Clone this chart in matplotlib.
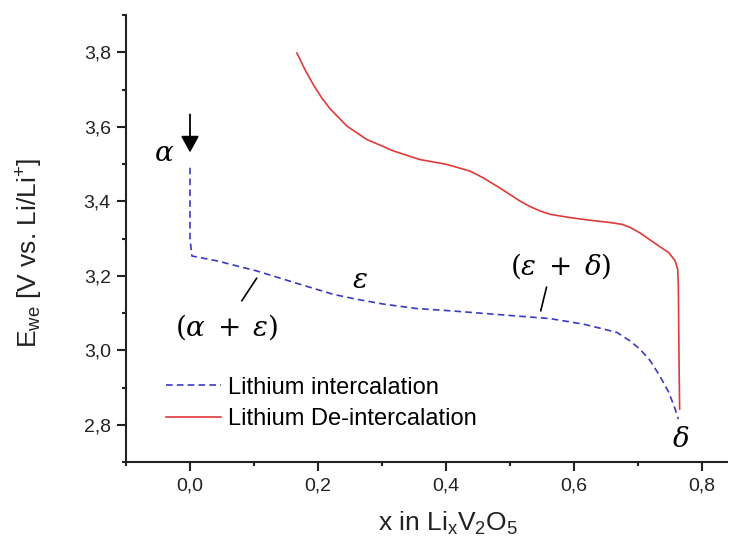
import matplotlib
matplotlib.use("Agg")
import matplotlib.pyplot as plt
from matplotlib.ticker import MultipleLocator, FuncFormatter

plt.rcParams['font.family'] = ['Liberation Sans', 'DejaVu Sans']
plt.rcParams['mathtext.fontset'] = 'dejavuserif'

# Intercalation (discharge) curve
x_int = [0.0, 0.0, 0.0, 0.003, 0.042, 0.104, 0.172, 0.224, 0.260, 0.302, 0.354,
         0.406, 0.458, 0.510, 0.5625, 0.615, 0.667, 0.6875, 0.703, 0.719, 0.734,
         0.748, 0.758, 0.763]
e_int = [3.49, 3.40, 3.30, 3.253, 3.240, 3.213, 3.177, 3.150, 3.137, 3.124, 3.112,
         3.106, 3.099, 3.092, 3.085, 3.070, 3.048, 3.025, 3.003, 2.972, 2.931,
         2.887, 2.842, 2.815]

# De-intercalation (charge) curve
x_deint = [0.167, 0.180, 0.193, 0.206, 0.219, 0.245, 0.276, 0.318, 0.359, 0.401,
           0.4375, 0.458, 0.479, 0.500, 0.516, 0.531, 0.547, 0.5625, 0.594, 0.625,
           0.656, 0.675, 0.6875, 0.703, 0.729, 0.748, 0.758, 0.762, 0.763, 0.764,
           0.765]
e_deint = [3.798, 3.752, 3.712, 3.677, 3.648, 3.602, 3.566, 3.535, 3.512, 3.499,
           3.481, 3.463, 3.441, 3.418, 3.400, 3.386, 3.374, 3.365, 3.356, 3.349,
           3.343, 3.338, 3.330, 3.315, 3.284, 3.262, 3.240, 3.217, 3.173, 2.98,
           2.842]

fig = plt.figure(figsize=(7.31, 5.43), dpi=100)
ax = fig.add_axes([126 / 731, 81 / 543, (727 - 126) / 731, (462 - 15) / 543])

ax.plot(x_int, e_int, color='#3a3ac4', lw=1.2, linestyle=(0, (4, 2.5)),
        label='Lithium intercalation')
ax.plot(x_deint, e_deint, color='#e03a3a', lw=1.2, label='Lithium De-intercalation')

ax.set_xlim(-0.1, 0.839)
ax.set_ylim(2.7, 3.9)

for side in ('top', 'right'):
    ax.spines[side].set_visible(False)
for side in ('left', 'bottom'):
    ax.spines[side].set_linewidth(1.5)
    ax.spines[side].set_color('#222222')

ax.xaxis.set_major_locator(MultipleLocator(0.2))
ax.xaxis.set_minor_locator(MultipleLocator(0.1))
ax.yaxis.set_major_locator(MultipleLocator(0.2))
ax.yaxis.set_minor_locator(MultipleLocator(0.1))
comma = FuncFormatter(lambda v, p: f"{v:.1f}".replace('.', ','))
ax.xaxis.set_major_formatter(comma)
ax.yaxis.set_major_formatter(comma)
ax.tick_params(which='major', direction='out', length=6.5, width=1.5,
               labelsize=14, colors='#222222', pad=4.5)
ax.tick_params(which='minor', direction='out', length=3.2, width=1.5, colors='#222222')

ax.set_xlabel(r'x in Li$_{\mathregular{x}}$V$_{\mathregular{2}}$O$_{\mathregular{5}}$',
              fontsize=19, color='#222222')
ax.set_ylabel(r'E$_{\mathregular{we}}$ [V vs. Li/Li$^{\mathregular{+}}$]',
              fontsize=19, color='#222222')
ax.xaxis.set_label_coords(0.536, -0.108)
ax.yaxis.set_label_coords(-0.135, 0.468)

# Phase annotations
ax.annotate('', xy=(0.0, 3.531), xytext=(0.0, 3.633),
            arrowprops=dict(arrowstyle='-|>,head_length=1.0,head_width=0.55',
                            color='black', lw=1.3, shrinkA=0, shrinkB=0))
ax.text(-0.041, 3.527, r'$\alpha$', fontsize=20, ha='center', va='center')
ax.text(0.266, 3.187, r'$\varepsilon$', fontsize=20, ha='center', va='center')
ax.text(0.057, 3.062, r'$(\alpha\;+\;\varepsilon)$', fontsize=20, ha='center', va='center')
ax.plot([0.104, 0.081], [3.193, 3.133], color='black', lw=1.2)
ax.text(0.579, 3.227, r'$(\varepsilon\;+\;\delta)$', fontsize=20, ha='center', va='center')
ax.plot([0.557, 0.548], [3.169, 3.106], color='black', lw=1.2)
ax.text(0.766, 2.759, r'$\delta$', fontsize=20, ha='center', va='center')

ax.legend(loc='center left', bbox_to_anchor=(0.0665, 0.131), frameon=False,
          fontsize=17, handlelength=2.33, handletextpad=0.3, labelspacing=0.4,
          borderaxespad=0.0, borderpad=0.0)

fig.savefig('out.png', dpi=100)
